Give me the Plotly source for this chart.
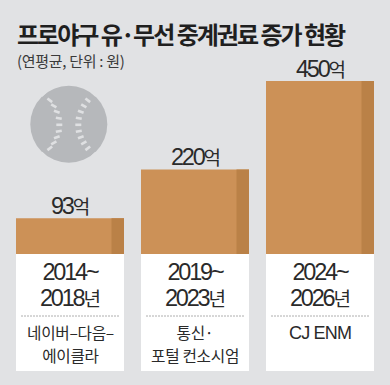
import math
import plotly.graph_objects as go

categories = [0, 1, 2]
values = [93, 220, 450]
value_numbers = ["93", "220", "450"]
value_unit = "억"
period_start = ["2014~", "2019~", "2024~"]
period_end = ["2018", "2023", "2026"]
period_unit = "년"
holder_labels = ["네이버–다음–<br>에이클라", "통신·<br>포털 컨소시엄", "CJ ENM"]
title_text = "프로야구 유·무선 중계권료 증가 현황"
subtitle_text = "(연평균, 단위 : 원)"

W, H = 390, 385
BG = "#e1e2e4"
FONT = "Noto Sans CJK KR"
LATIN = "Liberation Sans, Noto Sans CJK KR"
INK = "#2a2a2a"


def px(x):
    return x / W


def py(y):
    return 1 - y / H


pitch = 125.0
x0 = -70 / pitch
y_per_px = 450 / 173
yr = [-(H - 254) * y_per_px, 254 * y_per_px]
xr = [x0, x0 + W / pitch]
bw = 108 / pitch
dw = 12.5 / pitch

fig = go.Figure()
fig.add_bar(x=categories, y=values, width=bw, offset=-bw / 2,
            marker=dict(color="#cc9157", line_width=0), hoverinfo="skip")
fig.add_bar(x=categories, y=values, width=dw, offset=bw / 2 - dw,
            marker=dict(color="#ba8147", line_width=0), hoverinfo="skip")

shapes = []
for c in categories:
    xa, xb = c - bw / 2, c + bw / 2
    shapes.append(dict(type="rect", xref="x", yref="paper", x0=xa, x1=xb,
                       y0=py(371), y1=py(254), fillcolor="white", line_width=0, layer="below"))
    shapes.append(dict(type="line", xref="x", yref="paper", x0=xa + 5 / pitch, x1=xb - 5 / pitch,
                       y0=py(316), y1=py(316), line=dict(color="#9a9a9a", width=0.8, dash="2px,1px")))

# baseball decoration
cx, cy = 68.8, 124.3
shapes.append(dict(type="circle", xref="paper", yref="paper",
                   x0=px(cx - 38.5), x1=px(cx + 38.5), y0=py(cy + 38.5), y1=py(cy - 38.5),
                   fillcolor="#b6b8bb", line_width=0, layer="below"))
stitch_dx = [19, 15, 12, 10, 9.5, 10, 12, 15, 19]
stitch_dy = [-24, -18.5, -12.5, -6, 0.5, 7, 13, 18.5, 24]
stitch_deg = [38, 30, 20, 10, 0, -10, -20, -30, -38]
STITCH = "#dfe0e2"
for dx, dy, a in zip(stitch_dx, stitch_dy, stitch_deg):
    hx, hy = 3 * math.cos(math.radians(a)), 3 * math.sin(math.radians(a))
    for s in (-1, 1):
        shapes.append(dict(type="line", xref="paper", yref="paper",
                           x0=px(cx + s * (dx - hx)), x1=px(cx + s * (dx + hx)),
                           y0=py(cy + dy - s * hy), y1=py(cy + dy + s * hy),
                           line=dict(color=STITCH, width=2.6)))
for sx, sy in ((-1, -1), (1, -1), (-1, 1), (1, 1)):
    shapes.append(dict(type="line", xref="paper", yref="paper",
                       x0=px(cx + sx * 23), x1=px(cx + sx * 27),
                       y0=py(cy + sy * 32), y1=py(cy + sy * 28),
                       line=dict(color=BG, width=1.6)))

fig.update_layout(
    width=W, height=H, margin=dict(l=0, r=0, t=0, b=0),
    paper_bgcolor=BG, plot_bgcolor="rgba(0,0,0,0)",
    barmode="overlay", showlegend=False, shapes=shapes,
    xaxis=dict(range=xr, visible=False, fixedrange=True),
    yaxis=dict(range=yr, visible=False, fixedrange=True),
)


def sp(text, **style):
    css = ";".join(f"{k.replace('_', '-')}:{v}" for k, v in style.items())
    return f'<span style="{css}">{text}</span>'


def num(text):
    return sp(text, font_size="23.5px", letter_spacing="-2.2px", font_family="Liberation Sans")


def han(text):
    return sp(text, font_size="19px", letter_spacing="-1px", font_family=FONT)


def small(text):
    return sp(text, font_size="15.7px", letter_spacing="-0.3px")


ann = []
ann.append(dict(xref="paper", yref="paper", x=px(15), y=py(33),
                text=sp(title_text, letter_spacing="-2px"), showarrow=False,
                xanchor="left", yanchor="middle",
                font=dict(family=FONT, size=24, color="#1f1f1f", weight="bold")))
ann.append(dict(xref="paper", yref="paper", x=px(15), y=py(61),
                text=sp(subtitle_text, letter_spacing="-0.3px"), showarrow=False,
                xanchor="left", yanchor="middle", font=dict(family=FONT, size=15, color="#3a3a3a")))
for c, v, n, ps, pe, hl in zip(categories, values, value_numbers, period_start, period_end, holder_labels):
    ann.append(dict(x=c, y=v, xref="x", yref="y", yshift=13, text=num(n) + han(value_unit),
                    showarrow=False, yanchor="middle", font=dict(family=LATIN, size=20, color=INK)))
    ann.append(dict(x=c, xref="x", yref="paper", y=py(285),
                    text=num(ps) + "<br>" + num(pe) + han(period_unit), showarrow=False,
                    yanchor="middle", align="center", font=dict(family=LATIN, size=20, color=INK)))
    if c != 2:
        ann.append(dict(x=c, xref="x", yref="paper", y=py(344),
                        text="<br>".join(small(part) for part in hl.split("<br>")),
                        showarrow=False, yanchor="middle", align="center",
                        font=dict(family=FONT, size=17.5, color=INK)))
    else:
        ann.append(dict(x=c, xref="x", yref="paper", y=py(333), text=sp(hl, letter_spacing="-0.8px"),
                        showarrow=False, yanchor="middle",
                        font=dict(family="Liberation Sans", size=18, color=INK)))
fig.update_layout(annotations=ann)
fig.write_html("out.html", config=dict(displayModeBar=False),
               post_script="document.body.style.margin='0';")
